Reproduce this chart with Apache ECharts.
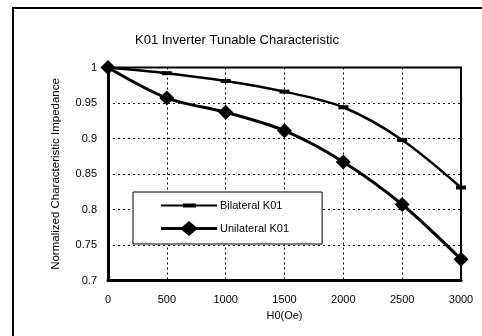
<!DOCTYPE html>
<html lang="en">
<head>
<meta charset="UTF-8">
<title>K01 Inverter Tunable Characteristic</title>
<script src="https://cdn.jsdelivr.net/npm/echarts@6/dist/echarts.min.js"></script>
<style>
  html, body { margin: 0; padding: 0; background: #fff; }
  #main { width: 482px; height: 336px; }
</style>
</head>
<body>
<div id="main"></div>
<script type="text/javascript">
// field H0 (Oe)
var fieldH0 = [0, 500, 1000, 1500, 2000, 2500, 3000];
// normalized characteristic impedance
var bilateralK01 = [1, 0.992, 0.981, 0.966, 0.944, 0.898, 0.831];
var unilateralK01 = [1, 0.957, 0.937, 0.911, 0.867, 0.807, 0.73];
var seriesNames = ['Bilateral K01', 'Unilateral K01'];

function pairs(xs, ys) {
    return xs.map(function (x, i) { return [x, ys[i]]; });
}

var myChart = echarts.init(document.getElementById('main'));
var font = 'Arial, "Liberation Sans", sans-serif';

// legend icons drawn like excel's: line with the marker in the middle
var bilateralIcon = 'path://M0,7.5 L56,7.5 L56,9.5 L0,9.5 Z M22,6.5 L35,6.5 L35,10.5 L22,10.5 Z';
var unilateralIcon = 'path://M0,7 L56,7 L56,10 L0,10 Z M28,1 L37,8.5 L28,16 L19,8.5 Z';

myChart.setOption({
    backgroundColor: '#fff',
    animation: false,
    title: {
        text: 'K01 Inverter Tunable Characteristic',
        left: 135,
        top: 34,
        padding: 0,
        textStyle: { fontFamily: font, fontSize: 13, fontWeight: 'normal', color: '#000' }
    },
    graphic: [{
        type: 'rect',
        shape: { x: 13, y: 8, width: 480, height: 340 },
        style: { fill: 'none', stroke: '#000', lineWidth: 2 },
        z: 0
    }],
    grid: {
        left: 108, right: 21, top: 67.5, bottom: 55.5,
        show: true, borderColor: '#000', borderWidth: 2
    },
    legend: {
        data: [
            { name: seriesNames[0], icon: bilateralIcon },
            { name: seriesNames[1], icon: unilateralIcon }
        ],
        orient: 'vertical',
        left: 133, top: 192,
        padding: [8, 33, 8, 28],
        itemGap: 10,
        itemWidth: 56, itemHeight: 17,
        symbolKeepAspect: true,
        backgroundColor: '#fff',
        borderColor: '#000', borderWidth: 1,
        textStyle: { fontFamily: font, fontSize: 11, color: '#000', padding: [0, 0, 0, -2] }
    },
    xAxis: {
        type: 'value',
        min: 0, max: 3000, interval: 500,
        name: 'H0(Oe)',
        nameLocation: 'middle',
        nameGap: 30,
        nameTextStyle: { fontFamily: font, fontSize: 11, color: '#000' },
        axisLine: { lineStyle: { color: '#000', width: 3 } },
        axisTick: { show: false },
        axisLabel: {
            fontFamily: font, fontSize: 11, color: '#000', margin: 14,
            formatter: function (v) { return String(v); }
        },
        splitLine: { lineStyle: { color: '#000', type: [2, 3], width: 1 } }
    },
    yAxis: {
        type: 'value',
        min: 0.7, max: 1, interval: 0.05,
        name: 'Normalized Characteristic Impedance',
        nameLocation: 'middle',
        nameGap: 46,
        nameTextStyle: { fontFamily: font, fontSize: 11.5, color: '#000' },
        axisLine: { show: true, lineStyle: { color: '#000', width: 3 } },
        axisTick: { show: false },
        axisLabel: { fontFamily: font, fontSize: 11, color: '#000', margin: 11 },
        splitLine: { lineStyle: { color: '#000', type: [2, 3], width: 1 } }
    },
    series: [
        {
            name: seriesNames[0],
            type: 'line',
            smooth: 0.3,
            data: pairs(fieldH0, bilateralK01),
            symbol: 'rect',
            symbolSize: [10, 4],
            lineStyle: { color: '#000', width: 2.5 },
            itemStyle: { color: '#000' },
            z: 3
        },
        {
            name: seriesNames[1],
            type: 'line',
            smooth: 0.3,
            data: pairs(fieldH0, unilateralK01),
            symbol: 'diamond',
            symbolSize: 15,
            lineStyle: { color: '#000', width: 3 },
            itemStyle: { color: '#000' },
            z: 4
        }
    ]
});
</script>
</body>
</html>
